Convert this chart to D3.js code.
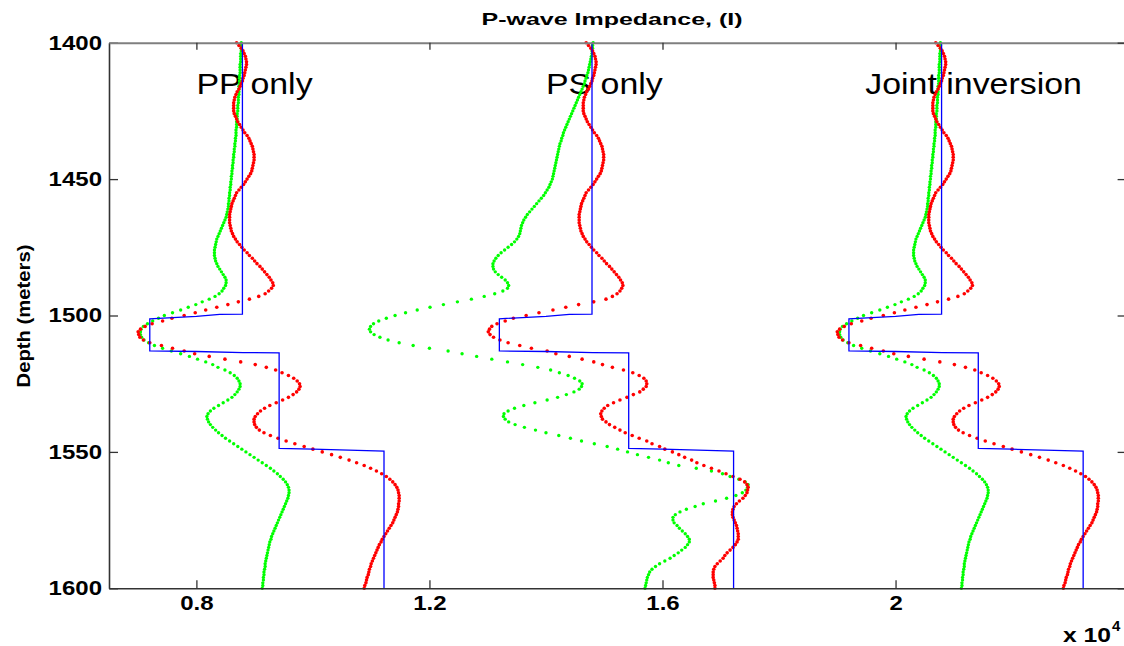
<!DOCTYPE html>
<html>
<head>
<meta charset="utf-8">
<script src="https://cdn.jsdelivr.net/npm/d3@7/dist/d3.min.js"></script>
<style>
  body { margin: 0; background: #fff; }
  svg { display: block; }
</style>
</head>
<body>
<svg id="chart" width="1124" height="646"></svg>
<script>
// Depth samples: one value per metre from 1400 m to 1600 m
const depthTop = 1400, depthBottom = 1600;

// Panels and the horizontal shift (x 10^4) each panel is drawn with
const panelNames = ["PP only", "PS only", "Joint inversion"];
const panelShift = [0, 0.6, 1.2];

const xTicks = [0.8, 1.2, 1.6, 2];
const yTicks = [1400, 1450, 1500, 1550, 1600];

// Blocky well-log model (depth, impedance x 10^4)
const modelDepth = [1400, 1499.5, 1499.6, 1500.3, 1501.2, 1513.0, 1513.2, 1513.6, 1513.7, 1548.7, 1549.0, 1549.7, 1600];
const modelImp   = [0.879, 0.879, 0.840, 0.800, 0.720, 0.720, 0.800, 0.880, 0.942, 0.942, 1.000, 1.122, 1.122];

// PP only
const ppGreen = [
  .877,.877,.877,.877,.876,.876,.876,.876,.875,.875,
  .875,.875,.874,.874,.874,.874,.873,.873,.873,.873,
  .872,.872,.872,.871,.871,.871,.870,.870,.870,.869,
  .869,.869,.868,.868,.868,.867,.867,.866,.866,.865,
  .865,.864,.864,.863,.863,.862,.862,.861,.861,.860,
  .860,.859,.859,.858,.858,.857,.857,.856,.856,.855,
  .855,.854,.853,.852,.851,.849,.847,.845,.843,.841,
  .839,.837,.835,.834,.833,.832,.831,.831,.831,.832,
  .833,.835,.837,.840,.843,.846,.849,.851,.851,.850,
  .847,.844,.839,.832,.822,.810,.799,.786,.773,.759,
  .745,.735,.725,.716,.709,.705,.704,.704,.706,.710,
  .718,.728,.742,.757,.773,.788,.802,.816,.828,.837,
  .849,.858,.865,.870,.873,.875,.875,.873,.870,.866,
  .861,.854,.846,.838,.830,.824,.820,.818,.819,.821,
  .824,.828,.833,.838,.844,.850,.857,.864,.871,.878,
  .885,.892,.899,.906,.913,.920,.927,.933,.939,.944,
  .949,.953,.956,.958,.959,.959,.958,.957,.955,.953,
  .951,.949,.947,.945,.943,.941,.939,.937,.935,.933,
  .931,.929,.928,.926,.925,.924,.923,.922,.921,.920,
  .919,.918,.918,.917,.916,.916,.915,.915,.914,.914,
  .913
];
const ppRed = [
  .869,.873,.877,.880,.882,.884,.885,.886,.886,.885,
  .884,.883,.882,.880,.879,.877,.875,.873,.870,.868,
  .866,.865,.864,.864,.864,.864,.865,.867,.869,.871,
  .874,.877,.880,.883,.887,.890,.892,.894,.896,.897,
  .898,.899,.899,.899,.898,.897,.896,.895,.893,.890,
  .887,.884,.881,.877,.873,.869,.867,.865,.863,.861,
  .860,.859,.858,.857,.857,.857,.857,.858,.859,.860,
  .862,.864,.867,.870,.874,.878,.882,.887,.891,.896,
  .900,.904,.909,.913,.917,.921,.925,.928,.931,.932,
  .929,.924,.918,.907,.891,.872,.854,.835,.816,.798,
  .779,.758,.742,.724,.712,.704,.700,.701,.703,.709,
  .720,.740,.759,.779,.797,.822,.849,.876,.901,.920,
  .936,.947,.958,.967,.973,.977,.978,.976,.972,.966,
  .958,.948,.937,.926,.917,.910,.905,.901,.899,.899,
  .900,.903,.908,.916,.927,.940,.954,.969,.985,1.000,
  1.016,1.032,1.047,1.062,1.075,1.088,1.099,1.109,1.118,1.126,
  1.132,1.137,1.141,1.144,1.146,1.147,1.148,1.148,1.148,1.147,
  1.147,1.146,1.145,1.143,1.141,1.139,1.137,1.134,1.131,1.128,
  1.125,1.122,1.119,1.117,1.114,1.112,1.110,1.108,1.106,1.104,
  1.102,1.100,1.099,1.097,1.096,1.095,1.093,1.092,1.091,1.089,
  1.088
];

// PS only
const psGreen = [
  .881,.880,.880,.879,.879,.878,.877,.876,.875,.874,
  .873,.872,.870,.869,.867,.866,.864,.862,.860,.858,
  .856,.854,.852,.850,.848,.846,.844,.842,.840,.838,
  .836,.834,.832,.830,.829,.827,.826,.824,.823,.822,
  .821,.820,.819,.818,.817,.816,.815,.814,.813,.812,
  .811,.809,.807,.805,.802,.799,.796,.792,.788,.784,
  .780,.776,.772,.768,.765,.762,.760,.758,.757,.756,
  .755,.753,.750,.746,.741,.735,.729,.723,.718,.714,
  .711,.709,.709,.710,.713,.718,.724,.730,.734,.736,
  .734,.726,.712,.694,.672,.648,.624,.601,.579,.559,
  .541,.526,.513,.504,.499,.497,.499,.505,.515,.529,
  .548,.572,.600,.632,.656,.681,.707,.734,.760,.786,
  .808,.823,.838,.849,.858,.862,.861,.857,.848,.835,
  .820,.802,.781,.762,.746,.735,.728,.727,.730,.736,
  .747,.763,.782,.800,.822,.842,.861,.883,.905,.923,
  .940,.957,.976,.995,1.010,1.028,1.058,1.084,1.103,1.116,
  1.131,1.142,1.147,1.146,1.143,1.137,1.126,1.110,1.091,1.070,
  1.056,1.041,1.030,1.022,1.018,1.018,1.020,1.025,1.029,1.034,
  1.039,1.043,1.046,1.046,1.043,1.039,1.033,1.027,1.020,1.013,
  1.004,.995,.988,.982,.978,.976,.974,.973,.972,.971,
  .970
];
const psRed = [
  .869,.873,.877,.880,.882,.884,.885,.886,.886,.885,
  .884,.883,.882,.880,.879,.877,.875,.873,.870,.868,
  .866,.865,.864,.864,.864,.864,.865,.867,.869,.871,
  .874,.877,.880,.883,.887,.890,.892,.894,.896,.897,
  .898,.899,.899,.899,.898,.897,.896,.895,.893,.890,
  .887,.884,.881,.877,.873,.869,.867,.865,.863,.861,
  .860,.859,.858,.857,.857,.857,.857,.858,.859,.860,
  .862,.864,.867,.870,.874,.878,.882,.887,.891,.896,
  .900,.904,.909,.913,.917,.921,.925,.928,.931,.932,
  .930,.927,.922,.914,.903,.882,.856,.834,.812,.788,
  .766,.744,.730,.716,.707,.703,.701,.704,.710,.721,
  .735,.755,.775,.802,.817,.840,.862,.882,.897,.914,
  .933,.949,.960,.968,.972,.973,.972,.967,.961,.950,
  .939,.927,.916,.906,.900,.896,.894,.895,.897,.903,
  .909,.918,.927,.936,.948,.960,.973,.982,.995,1.004,
  1.017,1.028,1.038,1.050,1.059,1.071,1.084,1.097,1.109,1.121,
  1.133,1.141,1.145,1.147,1.146,1.145,1.142,1.138,1.132,1.127,
  1.123,1.121,1.120,1.120,1.121,1.123,1.125,1.127,1.128,1.129,
  1.130,1.130,1.130,1.128,1.125,1.121,1.116,1.111,1.107,1.104,
  1.099,1.094,1.090,1.088,1.087,1.087,1.087,1.088,1.089,1.090,
  1.090
];

// Joint inversion
const jointGreen = [
  .877,.877,.877,.877,.876,.876,.876,.876,.875,.875,
  .875,.875,.874,.874,.874,.874,.873,.873,.873,.873,
  .872,.872,.872,.871,.871,.871,.870,.870,.870,.869,
  .869,.869,.868,.868,.868,.867,.867,.866,.866,.865,
  .865,.864,.864,.863,.863,.862,.862,.861,.861,.860,
  .860,.859,.859,.858,.858,.857,.857,.856,.856,.855,
  .855,.854,.853,.852,.851,.849,.847,.845,.843,.841,
  .839,.837,.835,.834,.833,.832,.831,.831,.831,.832,
  .833,.835,.837,.840,.843,.846,.849,.851,.851,.850,
  .847,.844,.839,.832,.822,.810,.799,.786,.773,.759,
  .745,.735,.725,.716,.709,.705,.704,.704,.706,.710,
  .718,.728,.742,.757,.773,.788,.802,.816,.828,.837,
  .849,.858,.865,.870,.873,.875,.875,.873,.870,.866,
  .861,.854,.846,.838,.830,.824,.820,.818,.819,.821,
  .824,.828,.833,.838,.844,.850,.857,.864,.871,.878,
  .885,.892,.899,.906,.913,.920,.927,.933,.939,.944,
  .949,.953,.956,.958,.959,.959,.958,.957,.955,.953,
  .951,.949,.947,.945,.943,.941,.939,.937,.935,.933,
  .931,.929,.928,.926,.925,.924,.923,.922,.921,.920,
  .919,.918,.918,.917,.916,.916,.915,.915,.914,.914,
  .913
];
const jointRed = [
  .869,.873,.877,.880,.882,.884,.885,.886,.886,.885,
  .884,.883,.882,.880,.879,.877,.875,.873,.870,.868,
  .866,.865,.864,.864,.864,.864,.865,.867,.869,.871,
  .874,.877,.880,.883,.887,.890,.892,.894,.896,.897,
  .898,.899,.899,.899,.898,.897,.896,.895,.893,.890,
  .887,.884,.881,.877,.873,.869,.867,.865,.863,.861,
  .860,.859,.858,.857,.857,.857,.857,.858,.859,.860,
  .862,.864,.867,.870,.874,.878,.882,.887,.891,.896,
  .900,.904,.909,.913,.917,.921,.925,.928,.931,.932,
  .929,.924,.918,.907,.891,.872,.854,.835,.816,.798,
  .779,.758,.742,.724,.712,.704,.700,.701,.703,.709,
  .720,.740,.759,.779,.797,.822,.849,.876,.901,.920,
  .936,.947,.958,.967,.973,.977,.978,.976,.972,.966,
  .958,.948,.937,.926,.917,.910,.905,.901,.899,.899,
  .900,.903,.908,.916,.927,.940,.954,.969,.985,1.000,
  1.016,1.032,1.047,1.062,1.075,1.088,1.099,1.109,1.118,1.126,
  1.132,1.137,1.141,1.144,1.146,1.147,1.148,1.148,1.148,1.147,
  1.147,1.146,1.145,1.143,1.141,1.139,1.137,1.134,1.131,1.128,
  1.125,1.122,1.119,1.117,1.114,1.112,1.110,1.108,1.106,1.104,
  1.102,1.100,1.099,1.097,1.096,1.095,1.093,1.092,1.091,1.089,
  1.088
];

const greenSeries = [ppGreen, psGreen, jointGreen];
const redSeries = [ppRed, psRed, jointRed];

// ---------------------------------------------------------------------------
const svg = d3.select("#chart");
const plot = { left: 109, right: 1128.6, top: 42.7, bottom: 588.3 };

const x = d3.scaleLinear().domain([0.65, 2.4]).range([plot.left, plot.right]);
const y = d3.scaleLinear().domain([depthTop, depthBottom]).range([plot.top, plot.bottom]);
const depths = d3.range(depthTop, depthBottom + 1);

// horizontally widen a text element by a factor
function widen(sel, factor) {
  sel.each(function () {
    const w = this.getComputedTextLength();
    this.setAttribute("textLength", (w * factor).toFixed(1));
    this.setAttribute("lengthAdjust", "spacingAndGlyphs");
  });
}
function fitWidth(sel, width) {
  sel.attr("textLength", width).attr("lengthAdjust", "spacingAndGlyphs");
}

const fontFamily = "'Liberation Sans', Arial, sans-serif";

// Panel captions (drawn under the curves)
const captionAt = [0.8, 1.4, 1.948];
panelNames.forEach((name, i) => {
  svg.append("text")
    .attr("x", x(captionAt[i]))
    .attr("y", 94)
    .attr("font-family", fontFamily)
    .attr("font-size", 30)
    .attr("fill", "#000")
    .text(name)
    .call(widen, 1.13);
});

// Curves
const curves = svg.append("g");
panelNames.forEach((name, i) => {
  const shift = panelShift[i];
  const g = curves.append("g").attr("class", "panel");
  g.append("g").selectAll("circle")
    .data(depths.map((d, k) => [d, greenSeries[i][k]]))
    .join("circle")
    .attr("cx", d => x(d[1] + shift))
    .attr("cy", d => y(d[0]))
    .attr("r", 1.7)
    .attr("fill", "#00ff00");
  g.append("g").selectAll("circle")
    .data(depths.map((d, k) => [d, redSeries[i][k]]))
    .join("circle")
    .attr("cx", d => x(d[1] + shift))
    .attr("cy", d => y(d[0]))
    .attr("r", 1.8)
    .attr("fill", "#ff0000");
  const line = d3.line()
    .x(k => x(modelImp[k] + shift))
    .y(k => y(modelDepth[k]));
  g.append("path")
    .attr("d", line(d3.range(modelDepth.length)))
    .attr("fill", "none")
    .attr("stroke", "#0000ff")
    .attr("stroke-width", 1.3);
});

// Axes
const axisColor = "#333";
const leftAxis = svg.append("g")
  .attr("transform", `translate(${plot.left},0)`)
  .call(d3.axisLeft(y).tickValues(yTicks).tickSize(-9).tickSizeOuter(0).tickPadding(7).tickFormat(d3.format("d")));
const bottomAxis = svg.append("g")
  .attr("transform", `translate(0,${plot.bottom})`)
  .call(d3.axisBottom(x).tickValues(xTicks).tickSize(-8).tickSizeOuter(0).tickPadding(7.5).tickFormat(d => String(d)));
const topAxis = svg.append("g")
  .attr("transform", `translate(0,${plot.top})`)
  .call(d3.axisTop(x).tickValues(xTicks).tickSize(-7).tickSizeOuter(0).tickFormat(""));
const rightAxis = svg.append("g")
  .attr("transform", `translate(${plot.right},0)`)
  .call(d3.axisRight(y).tickValues(yTicks).tickSize(-11).tickSizeOuter(0).tickFormat(""));

[leftAxis, bottomAxis, rightAxis].forEach(a => {
  a.select(".domain").attr("stroke", axisColor).attr("stroke-width", 1.6);
  a.selectAll(".tick line").attr("stroke", axisColor).attr("stroke-width", 1.3);
});
topAxis.select(".domain").attr("stroke", "#7f7f7f").attr("stroke-width", 2);
topAxis.selectAll(".tick line").attr("stroke", axisColor).attr("stroke-width", 1.3);

[leftAxis, bottomAxis].forEach(a => {
  a.selectAll(".tick text")
    .attr("font-family", fontFamily)
    .attr("font-weight", "bold")
    .attr("font-size", 20)
    .attr("fill", "#000")
    .call(widen, 1.2);
});

// Title
svg.append("text")
  .attr("x", 612)
  .attr("y", 25)
  .attr("text-anchor", "middle")
  .attr("font-family", fontFamily)
  .attr("font-weight", "bold")
  .attr("font-size", 17)
  .text("P-wave Impedance, (I)")
  .call(fitWidth, 261);

// Y label
svg.append("text")
  .attr("transform", "translate(30,316) rotate(-90)")
  .attr("text-anchor", "middle")
  .attr("font-family", fontFamily)
  .attr("font-weight", "bold")
  .attr("font-size", 19)
  .text("Depth (meters)")
  .call(fitWidth, 143);

// Exponent label, kept just inside the right edge
svg.append("text")
  .attr("x", 1063)
  .attr("y", 642)
  .attr("font-family", fontFamily)
  .attr("font-weight", "bold")
  .attr("font-size", 20)
  .text("x 10")
  .call(fitWidth, 48);
svg.append("text")
  .attr("x", 1112)
  .attr("y", 631)
  .attr("font-family", fontFamily)
  .attr("font-weight", "bold")
  .attr("font-size", 15)
  .text("4");
</script>
</body>
</html>
